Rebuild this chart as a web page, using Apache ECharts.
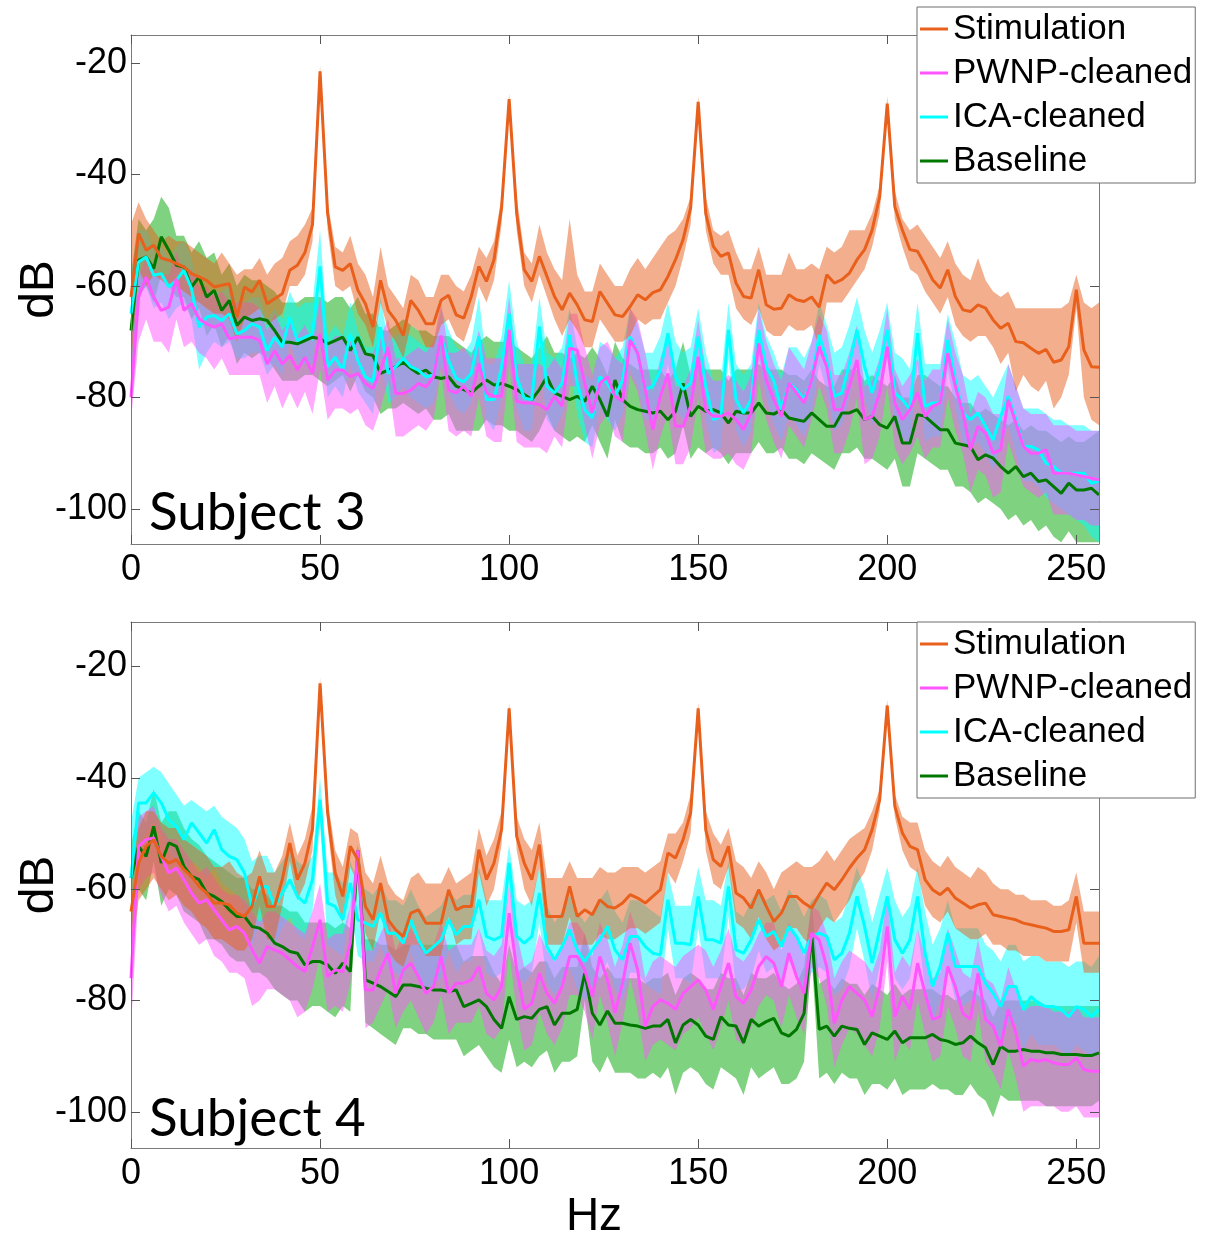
<!DOCTYPE html>
<html>
<head>
<meta charset="utf-8">
<script src="https://cdn.jsdelivr.net/npm/echarts@6/dist/echarts.min.js"></script>
<style>
html,body{margin:0;padding:0;background:#fff}
#chart{width:1206px;height:1240px}
</style>
</head>
<body>
<div id="chart"></div>
<script>
// Frequency bins of the spectra (2 Hz resolution, 0-256 Hz)
const freqHz = Array.from({length: 129}, (_, i) => i * 2);
const seriesNames = ['Stimulation', 'PWNP-cleaned', 'ICA-cleaned', 'Baseline'];
const subjectLabels = ['Subject 3', 'Subject 4'];
const xTickValues = [0, 50, 100, 150, 200, 250];
const yTickValues = [-100, -80, -60, -40, -20];

// ---------- Subject 3 : mean power (dB) and spread band ----------
const s3Stim = [-62,-50.6,-53.6,-52.7,-55,-55.4,-56,-56.6,-57.8,-58.4,
-59,-60.2,-59.9,-59.6,-65.6,-60.2,-61.1,-59,-63.2,-62.3,
-61.4,-57.2,-56.3,-54,-49,-21.5,-47,-56.6,-57.2,-56,
-60.8,-63.2,-67.4,-59,-64.4,-66.2,-68.9,-62.6,-64.4,-66.8,
-66.8,-62.6,-61.7,-65.2,-65.8,-61.9,-56.5,-59.2,-55.3,-46,
-26.5,-47,-57.1,-59.2,-54.7,-58.3,-61.9,-64.3,-61.3,-63.4,
-66.1,-66.4,-61,-63.1,-65.2,-65.5,-63.7,-61.6,-62.5,-61.2,
-60.7,-58.3,-55.3,-51.7,-46,-27,-47,-52.9,-54.7,-54.1,
-59.5,-61.9,-62.2,-57.1,-63.4,-64.2,-64,-61.6,-62.5,-62.8,
-62,-63.8,-58,-59.5,-58.9,-57.7,-55.3,-53.5,-50,-44,
-27.3,-45.8,-50,-53.5,-53.8,-56.2,-58.9,-60.4,-57.1,-61.9,
-64.3,-64.6,-63.4,-64,-66.1,-67.6,-66.7,-70,-70.2,-71.2,
-72.1,-71.4,-73.7,-73.3,-70.9,-60.7,-71.5,-74.5,-74.6];
const s3StimHi = [-49,-45,-48,-50,-52,-51,-52,-52,-53,-54,
-55,-56,-54,-56,-58,-57,-57,-55,-58,-56,
-55,-52,-51,-49,-46,-20.5,-45,-53,-54,-51,
-56,-58,-62,-53,-60,-62,-64,-58,-59,-62,
-62,-58,-58,-60,-61,-58,-53,-55,-52,-44,
-25.5,-44,-54,-56,-49,-54,-57,-59,-48,-58,
-61,-61,-56,-58,-60,-60,-57,-55,-57,-55,
-53,-51,-50,-48,-44,-26,-44,-50,-51,-50,
-54,-57,-57,-53,-58,-58,-58,-54,-57,-57,
-56,-57,-53,-54,-53,-50,-50,-50,-47,-42,
-26,-43,-48,-50,-49,-51,-53,-55,-52,-56,
-58,-59,-55,-59,-61,-62,-61,-64,-64,-64,
-64,-64,-64,-64,-63,-58,-63,-64,-63];
const s3StimLo = [-75,-57,-60,-58,-59,-60,-60,-61,-62,-63,
-64,-65,-65,-66,-70,-66,-65,-64,-67,-66,
-65,-60,-60,-58,-52,-22.5,-50,-60,-61,-60,
-65,-67,-71,-63,-68,-70,-73,-67,-68,-71,
-71,-67,-66,-69,-70,-66,-60,-63,-59,-49,
-27.5,-50,-60,-63,-58,-62,-66,-69,-66,-68,
-71,-71,-66,-68,-70,-70,-69,-66,-67,-66,
-66,-63,-60,-55,-49,-28,-50,-56,-58,-58,
-64,-66,-67,-64,-68,-69,-69,-67,-68,-68,
-67,-71,-63,-63,-63,-61,-59,-57,-53,-47,
-28.5,-48,-53,-57,-58,-61,-63,-65,-62,-67,
-69,-70,-69,-69,-71,-74,-72,-79,-76,-78,
-79,-77,-82,-80,-76,-64,-80,-84,-85];

const s3Pwnp = [-80,-62,-58.4,-62,-64.4,-63.8,-58.7,-64.4,-63.2,-65.9,
-66.8,-67.4,-66.8,-69.5,-69.2,-69.2,-69.2,-69.8,-74,-71.6,
-74,-72.5,-75.1,-72.8,-75.7,-68.6,-76.9,-75.1,-75.1,-76.3,
-75.7,-77.5,-78.4,-75.1,-71,-79.3,-79.3,-78.7,-77.5,-78.1,
-76.3,-68.9,-78.7,-79.2,-78,-79.8,-73.9,-79.2,-79.8,-79.8,
-67.9,-80.7,-81,-81,-81.3,-82.2,-79.8,-81.6,-71.2,-71.5,
-77.5,-82.8,-77.5,-76.3,-79.8,-80.7,-69.7,-72.1,-78.6,-85.8,
-79.8,-75.7,-85.2,-85.2,-81.6,-72.7,-82.2,-83.4,-83.4,-82.8,
-84,-85.8,-82.8,-70.3,-76.9,-80.4,-83.4,-77.4,-79.2,-81,
-76.9,-70.9,-74.5,-82.2,-82.2,-78,-73.3,-84,-83.4,-79.2,
-70.9,-81,-84,-82.2,-79.2,-83.4,-81.6,-81,-72.1,-78,
-82.8,-89.4,-85.2,-86.4,-90,-89.4,-80.4,-84.6,-88.8,-90,
-90,-89.4,-93.6,-93.6,-93.6,-93.9,-94.2,-94.5,-94.8];
const s3PwnpHi = [-68,-58,-55,-57,-58,-58,-54,-58,-57,-60,
-60,-62,-61,-63,-63,-63,-63,-64,-68,-65,
-68,-66,-69,-67,-70,-62,-71,-69,-69,-70,
-70,-72,-72,-69,-66,-73,-73,-72,-71,-72,
-70,-63,-72,-72,-71,-73,-68,-73,-73,-73,
-62,-74,-74,-74,-74,-75,-73,-75,-65,-65,
-71,-76,-71,-70,-73,-74,-64,-66,-72,-79,
-73,-69,-78,-78,-75,-66,-75,-77,-77,-76,
-77,-79,-76,-64,-70,-74,-77,-71,-73,-75,
-70,-65,-68,-76,-76,-72,-67,-78,-77,-73,
-64,-75,-78,-76,-73,-77,-75,-75,-66,-72,
-76,-83,-79,-80,-83,-83,-74,-78,-82,-83,
-83,-83,-85,-85,-85,-86,-86,-86,-86];
const s3PwnpLo = [-84,-70,-66,-70,-70,-72,-66,-71,-70,-72,
-73,-75,-73,-76,-76,-76,-76,-76,-81,-78,
-82,-79,-82,-79,-83,-75,-84,-82,-82,-83,
-82,-85,-86,-82,-77,-87,-87,-86,-85,-86,
-84,-75,-86,-87,-86,-87,-80,-87,-88,-88,
-74,-88,-89,-89,-89,-90,-87,-89,-78,-78,
-85,-91,-85,-83,-87,-88,-76,-79,-86,-93,
-87,-83,-92,-92,-89,-80,-90,-91,-91,-90,
-92,-93,-90,-77,-84,-88,-91,-85,-87,-89,
-84,-78,-82,-90,-90,-86,-80,-92,-91,-87,
-78,-89,-92,-90,-87,-91,-89,-89,-80,-86,
-90,-97,-93,-94,-98,-97,-88,-92,-96,-97,
-98,-97,-101,-101,-101,-102,-102,-103,-103];

const s3Ica = [-65,-55.7,-54.8,-58.1,-57.8,-60.2,-59,-57.2,-60.5,-67.4,
-65.6,-65.3,-66.2,-65,-68.6,-68,-66.8,-67.4,-71.6,-69.2,
-71,-65.6,-69.8,-69.2,-68.6,-56.5,-74.5,-72.8,-75.1,-68.6,
-73.4,-76.3,-77.2,-67.4,-75.7,-74.5,-73,-74.5,-75.1,-76.3,
-76,-69.2,-73.4,-76.6,-77.2,-75.7,-69.1,-80.4,-80.4,-74.5,
-65,-76.3,-80.1,-80.4,-67.3,-78,-79.2,-77.5,-68.8,-77.5,
-82.2,-83.7,-76.3,-77.5,-79.8,-76.9,-69.1,-72.1,-78.6,-78,
-75.1,-68.5,-76.3,-78.6,-77.5,-69.1,-78,-84,-83.4,-67.9,
-80.4,-82.8,-80.4,-67.9,-74.5,-77,-82.2,-77.4,-78.6,-80.4,
-76.9,-68.8,-73.3,-79.8,-79.2,-73.9,-67.9,-74.5,-79.2,-74.5,
-67.9,-79.2,-80.4,-82.2,-68.5,-81.6,-81,-81,-69.7,-76.9,
-82.8,-84,-82.8,-85.2,-87.6,-83.4,-79.8,-84,-88.8,-88.8,
-89.4,-91.8,-92.4,-93.6,-93.6,-93.6,-93.6,-95.4,-95];
const s3IcaHi = [-58,-50,-50,-53,-53,-55,-53,-52,-55,-62,
-61,-61,-61,-60,-63,-63,-62,-62,-66,-64,
-66,-61,-64,-63,-63,-50,-69,-67,-69,-63,
-68,-71,-71,-62,-70,-69,-68,-69,-70,-71,
-71,-64,-68,-71,-72,-70,-62,-74,-74,-69,
-59,-70,-74,-74,-62,-72,-73,-71,-64,-71,
-76,-77,-70,-71,-73,-71,-64,-67,-72,-72,
-69,-63,-70,-72,-71,-64,-72,-77,-77,-63,
-74,-76,-74,-63,-69,-72,-76,-71,-71,-73,
-70,-63,-67,-72,-71,-67,-62,-68,-72,-68,
-63,-72,-73,-75,-63,-74,-74,-74,-65,-70,
-76,-77,-76,-78,-80,-77,-74,-78,-82,-82,
-82,-83,-84,-84,-85,-85,-85,-86,-86];
const s3IcaLo = [-75,-62,-60,-64,-63,-66,-64,-63,-66,-75,
-72,-70,-71,-70,-73,-73,-72,-72,-76,-74,
-76,-70,-74,-74,-74,-63,-80,-78,-80,-74,
-79,-81,-83,-73,-81,-80,-78,-80,-81,-82,
-81,-74,-79,-82,-83,-81,-74,-84,-86,-80,
-70,-82,-86,-86,-73,-84,-86,-83,-74,-83,
-88,-89,-82,-84,-86,-83,-75,-78,-84,-84,
-81,-74,-82,-84,-83,-75,-84,-90,-89,-73,
-86,-89,-86,-73,-80,-85,-88,-83,-85,-87,
-83,-74,-79,-86,-85,-80,-73,-80,-85,-80,
-73,-85,-87,-89,-74,-88,-87,-87,-75,-82,
-88,-89,-88,-90,-93,-89,-85,-90,-95,-95,
-96,-98,-99,-100,-101,-102,-103,-105,-106];

const s3Base = [-68,-55.4,-54.8,-56.9,-51.2,-53.6,-56.3,-56.6,-60.2,-58.4,
-62,-60.8,-64.4,-62.6,-67.1,-65.6,-66.2,-65.9,-66.2,-68,
-70.1,-70.1,-70.4,-69.8,-69.2,-69.5,-70.4,-69.8,-69.2,-71.6,
-69.2,-72.2,-72.5,-75.7,-75.1,-74.5,-73.7,-74.8,-75.7,-75.1,
-76.3,-76.6,-76.3,-78,-78.6,-79.2,-78,-76.9,-77.8,-77.5,
-78,-78.6,-79.5,-80.4,-78.6,-76.3,-79.2,-79.8,-80.4,-79.8,
-80.7,-78,-80.4,-83.4,-76.9,-80.4,-81.6,-82.2,-82.5,-82.8,
-82.5,-84,-82.5,-77.5,-83.4,-81.6,-82.5,-82.2,-82.8,-84.6,
-82.5,-82.8,-82.8,-81,-82.8,-83,-82.2,-83.7,-84,-84.3,
-82.8,-84,-85.2,-85.2,-82.8,-82.8,-82.2,-84,-83.4,-84.9,
-85.5,-83.4,-88.2,-88.2,-83.1,-83.4,-84.6,-85.8,-85.8,-88.2,
-88.5,-88.8,-91.2,-90.3,-90.9,-92.4,-93.6,-92.4,-94.2,-93.6,
-95.1,-94.8,-96,-97.2,-95.4,-96.6,-96.6,-96.3,-97.5];
const s3BaseHi = [-58,-48,-50,-48,-44,-46,-51,-51,-54,-52,
-55,-54,-58,-56,-60,-58,-59,-59,-60,-61,
-63,-63,-63,-62,-62,-62,-63,-62,-62,-64,
-62,-65,-65,-68,-68,-67,-66,-67,-68,-68,
-69,-69,-69,-70,-71,-72,-70,-69,-70,-70,
-70,-71,-72,-73,-71,-69,-72,-72,-73,-72,
-73,-71,-73,-76,-70,-73,-74,-75,-75,-75,
-75,-77,-75,-70,-76,-74,-75,-75,-75,-77,
-75,-75,-75,-74,-75,-75,-75,-76,-76,-77,
-75,-77,-78,-78,-75,-75,-75,-77,-76,-77,
-78,-76,-80,-80,-76,-76,-77,-78,-78,-80,
-81,-81,-83,-82,-83,-84,-85,-84,-86,-85,
-86,-86,-87,-88,-87,-88,-88,-87,-86];
const s3BaseLo = [-78,-62,-60,-63,-58,-60,-62,-62,-66,-64,
-69,-67,-71,-69,-74,-72,-73,-72,-73,-75,
-77,-77,-77,-76,-76,-77,-78,-77,-76,-79,
-76,-79,-80,-83,-82,-82,-81,-82,-83,-82,
-84,-84,-83,-86,-86,-86,-86,-84,-85,-85,
-86,-86,-87,-88,-86,-83,-86,-87,-88,-87,
-88,-85,-88,-91,-84,-88,-89,-89,-90,-90,
-89,-91,-90,-85,-91,-89,-90,-89,-90,-92,
-90,-90,-90,-88,-90,-90,-89,-91,-91,-92,
-90,-91,-92,-93,-90,-90,-89,-91,-91,-92,
-93,-91,-96,-96,-90,-91,-92,-93,-93,-96,
-96,-97,-99,-98,-99,-100,-102,-101,-103,-102,
-104,-103,-105,-106,-104,-106,-106,-106,-106];

// ---------- Subject 4 : mean power (dB) and spread band ----------
const s4Stim = [-64,-55.3,-52.3,-51.1,-54.1,-55.3,-54.7,-56.5,-57.7,-59.5,
-60.7,-62.5,-62.5,-62.8,-64.3,-64.9,-63.1,-57.7,-63.1,-63.1,
-58.3,-51.7,-58.3,-55.3,-49.3,-23,-46.3,-57.1,-61.3,-52.3,
-54.7,-63.1,-65.5,-58.9,-65.5,-67.3,-68.5,-64.3,-63.7,-66.1,
-66.1,-66.1,-60.1,-63.7,-63.1,-63.1,-52.9,-58.3,-55.3,-49.3,
-27.5,-50.5,-55.3,-58.3,-52,-64.9,-64.9,-64.9,-59.5,-64.9,
-63.7,-64.6,-61.9,-63.1,-63.4,-62.5,-61,-61.6,-62.5,-61.3,
-60.1,-53.5,-54.4,-51.1,-46.3,-27.5,-49.3,-54.7,-55.9,-52.3,
-60.7,-61.6,-63.4,-60.1,-63.1,-65.8,-64.3,-61.3,-61.3,-62.5,
-63.4,-61,-58.9,-60.1,-58.3,-56.2,-54.4,-52.9,-49.3,-43.9,
-27,-45.1,-49.9,-52.3,-52.9,-58.3,-60.1,-61,-59.8,-61.6,
-62.5,-63.4,-62.8,-62.5,-64.6,-64.9,-65.2,-65.5,-66.1,-66.4,
-66.7,-67,-67.6,-67.6,-67.3,-61.3,-69.7,-69.7,-69.7];
const s4StimHi = [-56,-49,-46,-46,-48,-49,-49,-51,-52,-53,
-54,-56,-56,-55,-57,-58,-57,-53,-57,-57,
-54,-48,-54,-51,-45,-22,-44,-53,-56,-49,
-50,-57,-59,-54,-59,-61,-62,-58,-57,-59,
-59,-59,-56,-59,-58,-57,-49,-54,-51,-46,
-26.5,-47,-51,-53,-48,-58,-58,-58,-55,-58,
-58,-58,-56,-57,-57,-56,-56,-56,-57,-56,
-55,-50,-50,-48,-43,-26.5,-46,-50,-52,-49,
-55,-56,-58,-55,-57,-60,-57,-56,-55,-56,
-56,-55,-53,-55,-53,-51,-50,-49,-46,-42,
-26,-43,-47,-48,-48,-53,-55,-56,-54,-56,
-57,-58,-56,-57,-59,-60,-60,-61,-61,-62,
-62,-62,-63,-63,-62,-57,-64,-64,-64];
const s4StimLo = [-72,-62,-60,-58,-60,-62,-61,-63,-64,-66,
-67,-69,-69,-70,-71,-71,-69,-63,-69,-69,
-63,-55,-62,-59,-53,-24,-49,-61,-66,-56,
-59,-68,-71,-64,-71,-73,-74,-70,-70,-72,
-72,-72,-65,-70,-69,-69,-57,-63,-60,-52,
-28.5,-53,-60,-63,-56,-70,-70,-70,-65,-70,
-70,-70,-68,-69,-69,-68,-67,-67,-68,-67,
-66,-57,-59,-55,-50,-28.5,-53,-59,-60,-56,
-66,-67,-69,-65,-69,-71,-70,-67,-67,-69,
-70,-67,-65,-66,-64,-62,-59,-57,-53,-46,
-28,-47,-53,-56,-57,-63,-65,-66,-64,-67,
-68,-69,-69,-68,-70,-70,-71,-71,-72,-72,
-72,-73,-73,-73,-73,-66,-75,-75,-75];

const s4Pwnp = [-76,-52.3,-51.1,-50.8,-54.1,-57.1,-56.2,-58.3,-60.7,-62.5,
-61.9,-63.7,-65.5,-67.3,-66.7,-67.9,-70.9,-73.3,-70.3,-70.9,
-71.5,-72.7,-73.9,-74.8,-70.3,-65.5,-75.7,-74.5,-74.8,-69.7,
-53,-78.1,-78.1,-74.5,-71.5,-78.7,-74.5,-73.3,-75.7,-78.7,
-77.5,-72.1,-78.7,-76.9,-76.9,-76.3,-73.9,-78.7,-79.9,-77.5,
-64.3,-74.5,-81.6,-80.5,-75.1,-78.7,-80.5,-77.5,-72.1,-72.1,
-74.5,-79.3,-72.1,-76.3,-82.2,-76.9,-69.7,-74.5,-84.6,-81.1,
-79.9,-80.5,-81.6,-78.7,-77.5,-76.3,-78.1,-81.6,-77.5,-73.3,
-79.3,-80.5,-78.1,-73.9,-72.1,-73.3,-77.5,-71.5,-75.7,-78.7,
-67.9,-69.1,-73.9,-84.1,-79.9,-77.5,-78.7,-79.9,-82.9,-77.5,
-66.7,-82.9,-79.3,-81.6,-73.3,-78.7,-83.4,-82.9,-73.9,-77.5,
-82.3,-83.4,-75.1,-83.4,-84.6,-88.2,-81.6,-85.8,-91.8,-90.6,
-90.9,-90.6,-91.2,-91.5,-91.5,-90.3,-92.4,-92.7,-92.7];
const s4PwnpHi = [-68,-47,-46,-45,-49,-51,-51,-53,-55,-57,
-56,-58,-60,-61,-61,-62,-64,-66,-64,-64,
-65,-66,-67,-68,-64,-59,-69,-68,-68,-63,
-52,-71,-71,-68,-65,-71,-68,-67,-69,-71,
-70,-66,-71,-70,-70,-70,-67,-71,-72,-70,
-59,-68,-74,-73,-68,-71,-73,-70,-66,-66,
-68,-72,-66,-69,-74,-70,-64,-68,-76,-73,
-72,-73,-74,-72,-71,-70,-71,-74,-71,-67,
-72,-73,-71,-68,-66,-66,-71,-66,-69,-72,
-63,-64,-68,-76,-73,-71,-72,-73,-75,-71,
-61,-75,-72,-74,-67,-72,-76,-75,-67,-71,
-75,-76,-69,-76,-77,-80,-74,-78,-82,-81,
-81,-81,-82,-82,-82,-81,-83,-83,-83];
const s4PwnpLo = [-85,-60,-58,-57,-61,-64,-63,-66,-68,-70,
-69,-72,-73,-75,-75,-76,-81,-80,-78,-78,
-79,-80,-83,-82,-78,-72,-82,-81,-82,-77,
-55,-85,-84,-81,-78,-85,-82,-80,-83,-86,
-84,-79,-86,-84,-84,-84,-81,-86,-87,-85,
-71,-82,-89,-88,-82,-86,-88,-85,-79,-79,
-82,-87,-79,-84,-90,-84,-76,-82,-91,-88,
-87,-88,-89,-86,-85,-83,-86,-89,-85,-80,
-87,-88,-85,-81,-79,-80,-85,-79,-83,-86,
-74,-76,-81,-92,-88,-85,-86,-88,-90,-85,
-73,-91,-87,-89,-80,-86,-91,-90,-81,-85,
-90,-91,-82,-91,-93,-96,-89,-94,-100,-99,
-99,-99,-99,-100,-100,-99,-101,-101,-101];

const s4Ica = [-58,-44.5,-44.5,-42.7,-44.5,-47.5,-48.7,-51.1,-48.1,-49.9,
-51.7,-49.3,-52.9,-54.1,-54.7,-57.1,-63.1,-59.5,-59.5,-63.1,
-60.7,-58.3,-61.3,-62.5,-58.3,-43.9,-62.5,-63.1,-65.5,-58.9,
-65.5,-66.1,-66.7,-64.3,-67.9,-67.9,-69.7,-65.5,-69.1,-71.5,
-70.3,-69.1,-65.5,-68.2,-66.7,-66.7,-61.9,-68.5,-69.1,-68.5,
-55.3,-68.5,-69.7,-68.5,-60.7,-70.3,-72.7,-70.3,-67.3,-70.9,
-73,-70.9,-69.1,-66.7,-70.9,-72.7,-68.5,-68.5,-70.3,-71.5,
-71.8,-61.9,-69.7,-69.7,-70,-61.3,-69.1,-69.1,-69.7,-59.5,
-70.9,-71.5,-69.1,-65.5,-68.5,-67.6,-70.3,-66.7,-68.5,-71.5,
-68.5,-67.9,-68.5,-72.7,-71.5,-67.9,-61.3,-66.7,-73.3,-67.3,
-61.3,-69.1,-71.5,-69.1,-61.3,-71.5,-77.5,-73.9,-67.9,-73.9,
-73.9,-73.9,-73.9,-76.9,-78.7,-81.1,-77.5,-77.5,-81.6,-79.3,
-80.5,-81.1,-81.1,-81.6,-82.9,-81.1,-81.6,-82.9,-81.6];
const s4IcaHi = [-48,-40,-39,-38,-39,-41,-43,-45,-44,-45,
-46,-45,-47,-48,-49,-51,-55,-54,-54,-57,
-55,-53,-55,-56,-54,-40,-57,-57,-59,-55,
-59,-60,-61,-59,-62,-62,-63,-60,-63,-65,
-64,-63,-60,-62,-61,-61,-56,-62,-62,-62,
-52,-62,-63,-62,-56,-63,-66,-64,-61,-64,
-66,-64,-62,-60,-64,-66,-62,-62,-63,-64,
-65,-57,-63,-63,-63,-56,-62,-62,-63,-55,
-64,-65,-62,-60,-62,-61,-64,-60,-62,-65,
-62,-61,-62,-66,-65,-61,-56,-60,-66,-61,
-56,-62,-65,-63,-56,-64,-70,-67,-62,-67,
-67,-67,-67,-70,-71,-73,-70,-70,-73,-72,
-72,-73,-73,-73,-74,-73,-73,-74,-72];
const s4IcaLo = [-67,-52,-50,-48,-50,-53,-55,-57,-55,-56,
-58,-56,-59,-60,-61,-63,-70,-66,-66,-70,
-67,-65,-68,-69,-64,-48,-70,-71,-72,-63,
-72,-73,-73,-70,-74,-75,-76,-71,-76,-78,
-77,-76,-71,-75,-73,-73,-67,-75,-76,-75,
-59,-75,-77,-75,-66,-77,-79,-77,-74,-78,
-80,-78,-76,-73,-78,-80,-75,-75,-77,-78,
-79,-67,-76,-76,-77,-67,-76,-76,-76,-65,
-78,-78,-76,-71,-75,-74,-77,-73,-75,-78,
-75,-74,-75,-79,-78,-74,-67,-73,-80,-74,
-67,-76,-78,-76,-67,-78,-84,-80,-74,-80,
-81,-80,-80,-84,-85,-88,-84,-84,-89,-86,
-88,-88,-88,-89,-90,-88,-89,-90,-89];

const s4Base = [-58,-52.3,-54.1,-48.7,-55.3,-51.7,-52.3,-55.9,-57.7,-58.3,
-60.7,-61.3,-62.2,-63.7,-64.9,-64.9,-66.7,-67,-67.9,-69.7,
-70.3,-71.2,-71.5,-73.6,-73,-73,-73.6,-75.1,-73.3,-74.8,
-53,-76.3,-76.9,-77.5,-78.4,-79.3,-77.2,-77.2,-77.5,-77.8,
-78.1,-78.1,-78.4,-78.1,-81.1,-80.5,-79.9,-81.1,-83.4,-85,
-79.3,-83.4,-82.9,-83.2,-81.6,-81.1,-84.4,-82.3,-82.3,-81.6,
-75.1,-82.3,-84.4,-81.9,-84.1,-84.1,-84.4,-84.6,-85,-84.6,
-84.6,-83.4,-87.6,-84.4,-83.4,-84.4,-86.4,-87,-82.9,-84.4,
-84.6,-87.6,-83.4,-84.6,-83.8,-83.2,-85.8,-86.4,-85.2,-82.3,
-67.9,-85.2,-84.6,-86.4,-84.6,-85,-85.2,-87.9,-85.8,-86.4,
-87,-85.5,-87.6,-86.7,-86.7,-86.7,-86.1,-87,-87.3,-87.9,
-87.6,-86.4,-87.6,-88.5,-91.5,-88.2,-89.1,-89.1,-88.8,-89.1,
-89.1,-89.4,-89.4,-89.7,-89.7,-89.7,-89.9,-89.9,-89.4];
const s4BaseHi = [-52,-46,-48,-42,-48,-46,-46,-49,-51,-52,
-54,-55,-56,-57,-58,-58,-60,-60,-61,-63,
-63,-64,-64,-66,-66,-66,-66,-67,-66,-67,
-52,-69,-69,-70,-70,-71,-70,-70,-70,-70,
-70,-70,-70,-70,-73,-72,-72,-72,-75,-77,
-70,-75,-74,-75,-73,-73,-76,-74,-74,-74,
-68,-74,-76,-74,-76,-76,-76,-76,-77,-76,
-76,-75,-79,-76,-75,-76,-78,-78,-75,-76,
-76,-79,-75,-76,-76,-75,-77,-78,-77,-74,
-62,-77,-76,-78,-76,-77,-77,-79,-77,-78,
-79,-77,-79,-78,-78,-78,-78,-79,-79,-80,
-79,-78,-79,-80,-83,-80,-80,-80,-80,-80,
-80,-81,-81,-81,-81,-81,-81,-81,-81];
const s4BaseLo = [-68,-60,-62,-55,-63,-60,-61,-64,-65,-66,
-69,-69,-70,-72,-73,-73,-75,-75,-76,-78,
-79,-80,-80,-82,-81,-81,-82,-83,-81,-82,
-54,-84,-85,-86,-87,-88,-85,-85,-86,-86,
-87,-87,-87,-87,-90,-89,-88,-90,-92,-93,
-87,-92,-91,-92,-90,-89,-93,-91,-91,-90,
-80,-91,-93,-90,-93,-93,-93,-94,-94,-93,
-94,-92,-97,-93,-92,-93,-95,-96,-92,-93,
-94,-97,-92,-94,-93,-92,-95,-95,-94,-91,
-72,-94,-93,-95,-93,-94,-94,-97,-95,-95,
-96,-94,-97,-96,-96,-96,-95,-96,-96,-97,
-97,-95,-97,-98,-101,-97,-98,-98,-98,-98,
-98,-99,-99,-99,-99,-99,-99,-99,-98];

// ---------- styling ----------
const lineColors = ['#E8601C', '#FF55FF', '#00FFFF', '#007800'];
const bandColors = ['rgba(232,96,28,0.5)', 'rgba(255,85,255,0.5)', 'rgba(0,255,255,0.5)', 'rgba(0,165,0,0.5)'];
const axisGrey = '#7a7a7a';
const sansFont = 'Liberation Sans, Arial, sans-serif';

const subjects = [
  {mean: [s3Stim, s3Pwnp, s3Ica, s3Base], hi: [s3StimHi, s3PwnpHi, s3IcaHi, s3BaseHi], lo: [s3StimLo, s3PwnpLo, s3IcaLo, s3BaseLo]},
  {mean: [s4Stim, s4Pwnp, s4Ica, s4Base], hi: [s4StimHi, s4PwnpHi, s4IcaHi, s4BaseHi], lo: [s4StimLo, s4PwnpLo, s4IcaLo, s4BaseLo]}
];

const grids = [
  {left: 131, top: 35, width: 968, height: 509, yMin: -106.3, yMax: -15},
  {left: 131, top: 622, width: 968, height: 526, yMin: -106.5, yMax: -12}
];

function xAxisFor(g, position, withLabels, name) {
  return {
    type: 'value', gridIndex: g, position, min: 0, max: 256, z: 5,
    axisLine: {show: true, onZero: false, lineStyle: {color: axisGrey, width: 1}},
    axisTick: {show: true, inside: true, length: 9, customValues: xTickValues, lineStyle: {color: '#555'}},
    axisLabel: {show: withLabels, customValues: xTickValues, fontSize: 36, color: '#000', margin: 8, fontFamily: sansFont},
    splitLine: {show: false},
    name: name || '', nameLocation: 'middle', nameGap: 46,
    nameTextStyle: {fontSize: 46, color: '#000', fontFamily: sansFont, padding: [0, 42, 0, 0]}
  };
}
function yAxisFor(g, position, withLabels) {
  return {
    type: 'value', gridIndex: g, position, min: grids[g].yMin, max: grids[g].yMax, z: 5,
    axisLine: {show: true, onZero: false, lineStyle: {color: axisGrey, width: 1}},
    axisTick: {show: true, inside: true, length: 9, customValues: yTickValues, lineStyle: {color: '#555'}},
    axisLabel: {show: withLabels, customValues: yTickValues, fontSize: 36, color: '#000', margin: 4, fontFamily: sansFont},
    splitLine: {show: false},
    name: withLabels ? 'dB' : '', nameLocation: 'middle', nameGap: 67, nameRotate: 90, nameMoveOverlap: false,
    nameTextStyle: {fontSize: 48, color: '#000', fontFamily: sansFont}
  };
}

const xAxes = [], yAxes = [], series = [];
grids.forEach((g, k) => {
  xAxes.push(xAxisFor(k, 'bottom', true, k === 1 ? 'Hz' : ''));
  xAxes.push(xAxisFor(k, 'top', false));
  yAxes.push(yAxisFor(k, 'left', true));
  yAxes.push(yAxisFor(k, 'right', false));
});

// shaded spread band drawn as a single polygon through the axis scales
function bandSeries(name, axisIdx, lo, hi, color) {
  const data = freqHz.map((f, i) => [f, lo[i], hi[i]]);
  return {
    type: 'custom', name, xAxisIndex: axisIdx, yAxisIndex: axisIdx, data,
    encode: {x: 0, y: [1, 2]}, clip: true, silent: true, z: 1, animation: false,
    renderItem(params, api) {
      if (params.dataIndex !== 0) return null;
      const upper = data.map(d => api.coord([d[0], d[2]]));
      const lower = data.map(d => api.coord([d[0], d[1]])).reverse();
      return {type: 'polygon', shape: {points: upper.concat(lower)}, style: {fill: color}};
    }
  };
}
function meanSeries(name, axisIdx, values, color) {
  return {
    type: 'line', name, xAxisIndex: axisIdx, yAxisIndex: axisIdx,
    data: freqHz.map((f, i) => [f, values[i]]),
    showSymbol: false, symbol: 'none', clip: true, z: 3, animation: false,
    lineStyle: {color, width: 3}, itemStyle: {color}
  };
}

subjects.forEach((s, k) => {
  const ax = k * 2;
  [3, 2, 1, 0].forEach(j => series.push(bandSeries(seriesNames[j] + ' spread ' + (k + 3), ax, s.lo[j], s.hi[j], bandColors[j])));
  [3, 2, 1, 0].forEach(j => series.push(meanSeries(seriesNames[j], ax, s.mean[j], lineColors[j])));
});

const option = {
  backgroundColor: '#fff',
  animation: false,
  grid: grids.map(g => ({left: g.left, top: g.top, width: g.width, height: g.height, containLabel: false, outerBoundsMode: 'none'})),
  xAxis: xAxes,
  yAxis: yAxes,
  title: subjectLabels.map((t, k) => ({
    text: t, left: 149, top: k ? 1092 : 486, padding: 0,
    textStyle: {fontFamily: 'Lato, sans-serif', fontSize: 53, fontWeight: 'normal', color: '#000'}
  })),
  legend: [7, 622].map(top => ({
    data: seriesNames, orient: 'vertical', left: 917, top,
    icon: 'rect', itemWidth: 28, itemHeight: 3, itemGap: 4,
    backgroundColor: '#fff', borderColor: '#6f6f6f', borderWidth: 1, borderRadius: 0,
    padding: [2, 3, 2, 3], selectedMode: false, z: 10,
    textStyle: {fontSize: 35, color: '#000', fontFamily: sansFont, lineHeight: 40}
  })),
  series
};

const chart = echarts.init(document.getElementById('chart'), null, {renderer: 'canvas'});
chart.setOption(option);
</script>
</body>
</html>
